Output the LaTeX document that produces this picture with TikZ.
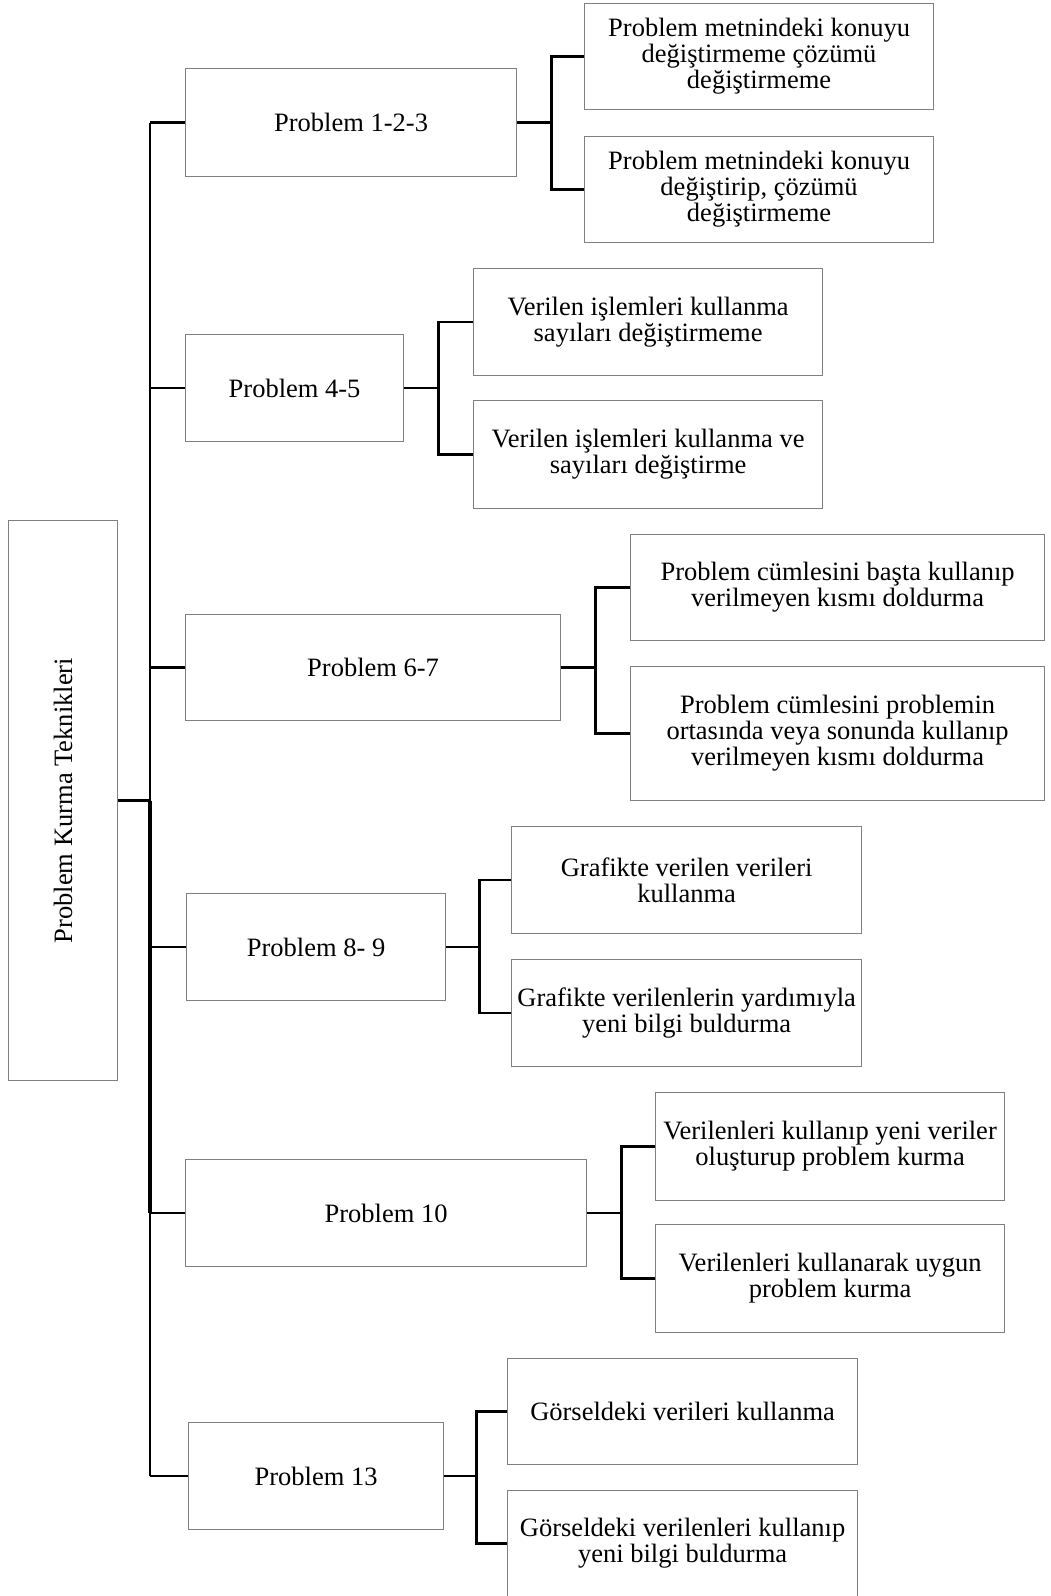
\documentclass[tikz,border=0pt]{standalone}
\usepackage{fontspec}
\setmainfont{Liberation Serif}
\usetikzlibrary{positioning,calc}

\tikzset{
  box/.style={draw=black!50, line width=1.2pt, inner sep=0pt, anchor=north west,
    align=center, font=\fontsize{26.5}{26}\selectfont},
  conn/.style={line width=2.6pt, black}
}

\begin{document}
\begin{tikzpicture}[x=1pt,y=-1pt]
    \useasboundingbox (0,0) rectangle (1051,1596);
    % root box
    \node[box, minimum width=109pt, minimum height=560pt] (root) at (8,520) {};
    \node[rotate=90, font=\fontsize{26.5}{26}\selectfont] (roottext) at (root.center) {Problem Kurma Teknikleri};
    % problem boxes
    \node[box, minimum width=331pt, minimum height=108pt] (p1) at (185,68) {Problem 1-2-3};
    \node[box, minimum width=218pt, minimum height=107pt] (p2) at (185,334) {Problem 4-5};
    \node[box, minimum width=375pt, minimum height=106pt] (p3) at (185,614) {Problem 6-7};
    \node[box, minimum width=259pt, minimum height=107pt] (p4) at (186,893) {Problem 8- 9};
    \node[box, minimum width=401pt, minimum height=107pt] (p5) at (185,1159) {Problem 10};
    \node[box, minimum width=255pt, minimum height=107pt] (p6) at (188,1422) {Problem 13};
    % technique boxes
    \node[box, minimum width=349pt, minimum height=106pt] (c1a) at (584,3) {Problem metnindeki konuyu\\ değiştirmeme çözümü\\ değiştirmeme};
    \node[box, minimum width=349pt, minimum height=106pt] (c1b) at (584,136) {Problem metnindeki konuyu\\ değiştirip, çözümü\\ değiştirmeme};
    \node[box, minimum width=349pt, minimum height=107pt] (c2a) at (473,268) {Verilen işlemleri kullanma\\ sayıları değiştirmeme};
    \node[box, minimum width=349pt, minimum height=108pt] (c2b) at (473,400) {Verilen işlemleri kullanma ve\\ sayıları değiştirme};
    \node[box, minimum width=414pt, minimum height=106pt] (c3a) at (630,534) {Problem cümlesini başta kullanıp\\ verilmeyen kısmı doldurma};
    \node[box, minimum width=414pt, minimum height=134pt] (c3b) at (630,666) {Problem cümlesini problemin\\ ortasında veya sonunda kullanıp\\ verilmeyen kısmı doldurma};
    \node[box, minimum width=350pt, minimum height=107pt] (c4a) at (511,826) {Grafikte verilen verileri\\ kullanma};
    \node[box, minimum width=350pt, minimum height=107pt] (c4b) at (511,959) {Grafikte verilenlerin yardımıyla\\ yeni bilgi buldurma};
    \node[box, minimum width=349pt, minimum height=108pt] (c5a) at (655,1092) {Verilenleri kullanıp yeni veriler\\ oluşturup problem kurma};
    \node[box, minimum width=349pt, minimum height=108pt] (c5b) at (655,1224) {Verilenleri kullanarak uygun\\ problem kurma};
    \node[box, minimum width=350pt, minimum height=106pt] (c6a) at (507,1358) {Görseldeki verileri kullanma};
    \node[box, minimum width=350pt, minimum height=106pt] (c6b) at (507,1490) {Görseldeki verilenleri kullanıp\\ yeni bilgi buldurma};
    %trunk
    \coordinate (trunk) at (150,0);
    \draw[conn] (root.east) -- (trunk |- root.east);
    \draw[conn] (trunk |- p1.west) -- (trunk |- p6.west);
    \draw[conn, line width=3.4pt] (trunk |- root.east) -- (trunk |- p5.west);
    \foreach \p in {p1,p2,p3,p4,p5,p6}
      \draw[conn] (trunk |- \p.west) -- (\p.west);
    % branches
    \foreach \p/\d in {1/34,2/34,3/34.5,4/33,5/34,6/32}{
      \draw[conn] (p\p.east) -- ++(\d,0) coordinate (b\p);
      \draw[conn] (c\p a.west) -| (b\p) |- (c\p b.west);
    }
\end{tikzpicture}
\end{document}
